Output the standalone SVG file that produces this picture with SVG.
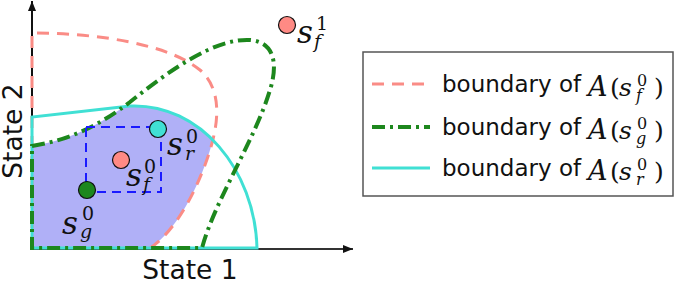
<svg xmlns="http://www.w3.org/2000/svg" width="674" height="282" viewBox="0 0 674 282">
<style>
.lbl{font-family:"DejaVu Sans",sans-serif;font-size:26.5px;fill:#111}
.leg{font-family:"DejaVu Sans",sans-serif;font-size:23px;fill:#111}
.mi{font-family:"DejaVu Serif",serif;font-style:italic;fill:#111}
.mr{font-family:"DejaVu Serif",serif;fill:#111}
.pink{fill:none;stroke:#fa8c86;stroke-width:3;stroke-dasharray:12 8}
.green{fill:none;stroke:#1d871d;stroke-width:4;stroke-dasharray:13 5 3 5}
.cyan{fill:none;stroke:#40e0d4;stroke-width:3}
.pt{stroke:#111;stroke-width:1.2}
</style>
<defs>
<marker id="arr" viewBox="0 0 10 10" refX="10" refY="5" markerWidth="10" markerHeight="10" markerUnits="userSpaceOnUse" orient="auto">
<path d="M0,1 L10,5 L0,9 Z" fill="#111"/>
</marker>
<clipPath id="cPink"><path d="M32,248 L32,33 C100,33 170,45 200,70 C225,92 218,130 205,165 C190,205 170,235 150,248 Z"/></clipPath>
<clipPath id="cGreen"><path d="M32,146 C70,140 100,125 130,102 C170,70 215,38 250,40 C275,42 278,65 270,90 C255,140 215,200 202,248 L32,248 Z"/></clipPath>
</defs>

<g id="region-fill" clip-path="url(#cPink)">
<path d="M32,117 L130,106 C200,103 255,170 257,248 L32,248 Z" fill="#b0b0f7" clip-path="url(#cGreen)"/>
</g>

<g id="axes">
<line x1="32" y1="249" x2="353" y2="249" stroke="#333" stroke-width="2" marker-end="url(#arr)"/>
<line x1="32" y1="249" x2="32" y2="1" stroke="#111" stroke-width="2" marker-end="url(#arr)"/>
</g>

<g id="connectors">
<path id="boundary-f" class="pink" d="M32,248 L32,33 C100,33 170,45 200,70 C225,92 218,130 205,165 C190,205 170,235 150,248"/>
<path id="boundary-r" class="cyan" d="M32,248 L32,117 L130,106 C200,103 255,170 257,248 Z"/>
<path id="boundary-g" class="green" d="M32,146 C70,140 100,125 130,102 C170,70 215,38 250,40 C275,42 278,65 270,90 C255,140 215,200 202,248 L32,248 Z"/>
<rect id="box" x="86" y="127" width="75" height="65" fill="none" stroke="#1a1aff" stroke-width="2" stroke-dasharray="9 6"/>
</g>

<g id="node-sr">
<circle class="pt" cx="158" cy="129" r="8.5" fill="#40e0d4"/>
<text class="mi" x="167" y="155" font-size="31">s</text>
<text class="mr" x="186" y="143" font-size="19">0</text>
<text class="mi" x="185" y="160" font-size="19">r</text>
</g>
<g id="node-sf0">
<circle class="pt" cx="121" cy="160" r="8.5" fill="#ff8a84"/>
<text class="mi" x="126" y="186" font-size="31">s</text>
<text class="mr" x="144" y="173" font-size="19">0</text>
<text class="mi" x="143" y="191" font-size="19">f</text>
</g>
<g id="node-sg">
<circle class="pt" cx="87" cy="190" r="8.5" fill="#1d871d"/>
<text class="mi" x="62" y="234" font-size="31">s</text>
<text class="mr" x="82" y="220" font-size="19">0</text>
<text class="mi" x="80" y="238" font-size="19">g</text>
</g>
<g id="node-sf1">
<circle class="pt" cx="287" cy="25" r="8.5" fill="#ff8a84"/>
<text class="mi" x="297" y="43" font-size="31">s</text>
<text class="mr" x="316" y="30" font-size="19">1</text>
<text class="mi" x="314" y="48" font-size="19">f</text>
</g>

<text class="lbl" x="190" y="279" text-anchor="middle">State 1</text>
<text class="lbl" transform="translate(22,131) rotate(-90)" text-anchor="middle">State 2</text>

<g id="legend">
<rect x="363" y="52" width="310" height="144" fill="#fff" stroke="#555" stroke-width="1.5"/>
<line class="pink" x1="372" y1="84" x2="430" y2="84"/>
<line class="green" x1="372" y1="127" x2="430" y2="127"/>
<line class="cyan" x1="372" y1="168" x2="430" y2="168"/>
<text class="leg" x="442" y="92">boundary of</text>
<text class="leg" x="442" y="135">boundary of</text>
<text class="leg" x="442" y="176">boundary of</text>
<g font-size="25">
<text class="mi" x="588" y="96" font-size="27">A</text><text class="mr" x="610" y="96">(</text><text class="mi" x="619" y="96">s</text><text class="mr" x="637" y="86" font-size="16">0</text><text class="mi" x="636" y="101" font-size="16">f</text><text class="mr" x="654" y="96">)</text>
<text class="mi" x="588" y="139" font-size="27">A</text><text class="mr" x="610" y="139">(</text><text class="mi" x="619" y="139">s</text><text class="mr" x="637" y="129" font-size="16">0</text><text class="mi" x="636" y="144" font-size="16">g</text><text class="mr" x="654" y="139">)</text>
<text class="mi" x="588" y="180" font-size="27">A</text><text class="mr" x="610" y="180">(</text><text class="mi" x="619" y="180">s</text><text class="mr" x="637" y="170" font-size="16">0</text><text class="mi" x="636" y="185" font-size="16">r</text><text class="mr" x="654" y="180">)</text>
</g>
</g>
</svg>
